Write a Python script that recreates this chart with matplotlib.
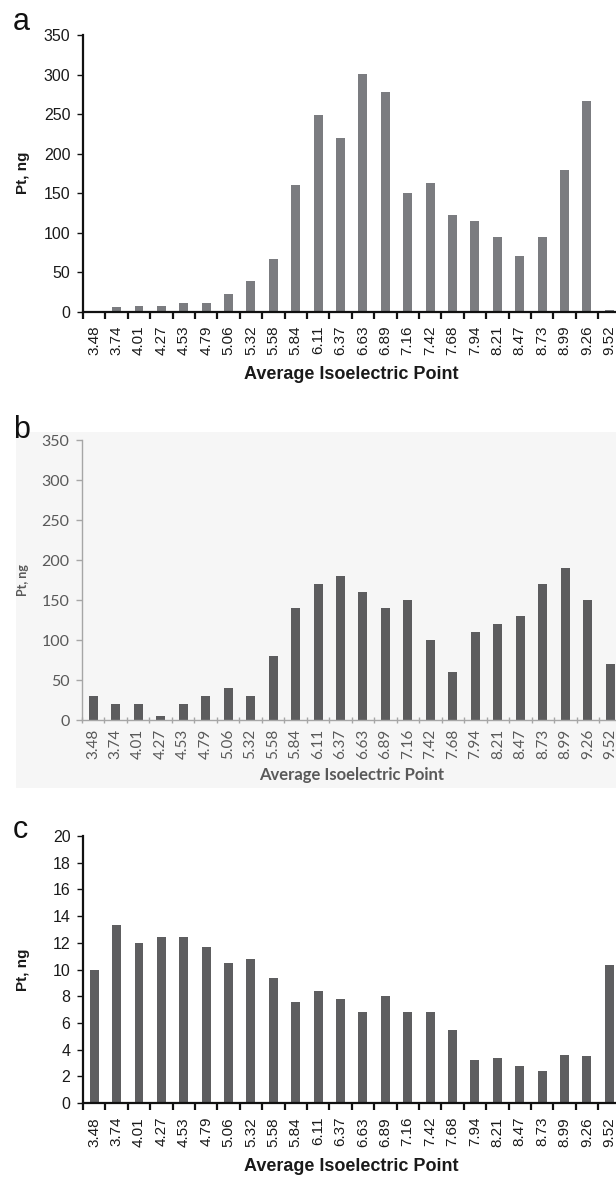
import matplotlib.pyplot as plt
from matplotlib.patches import Rectangle

# isoelectric point categories (shared by all three panels)
pI = ["3.48", "3.74", "4.01", "4.27", "4.53", "4.79", "5.06", "5.32", "5.58", "5.84",
      "6.11", "6.37", "6.63", "6.89", "7.16", "7.42", "7.68", "7.94", "8.21", "8.47",
      "8.73", "8.99", "9.26", "9.52"]

# panel a, Pt ng
pt_a = [0, 5.5, 7, 7, 10.5, 10.5, 22, 38, 67, 160,
        249, 220, 301, 278, 150, 163, 122, 115, 94.5, 70,
        94.5, 179, 266, 2]

# panel b, Pt ng
pt_b = [30, 20, 20, 5, 20, 30, 40, 30, 80, 140,
        170, 180, 160, 140, 150, 100, 60, 110, 120, 130,
        170, 190, 150, 70]

# panel c, Pt ng
pt_c = [10.0, 13.3, 12.0, 12.4, 12.4, 11.7, 10.5, 10.8, 9.4, 7.6,
        8.4, 7.8, 6.8, 8.0, 6.8, 6.8, 5.5, 3.2, 3.4, 2.8,
        2.4, 3.6, 3.5, 10.3]

xlabel = "Average Isoelectric Point"
ylabel = "Pt, ng"

W, H = 616, 1181
fig = plt.figure(figsize = (W / 100, H / 100), dpi = 100)

arial = ["Liberation Sans", "DejaVu Sans"]
calibri = ["Lato", "DejaVu Sans"]

# light grey background behind panel b (pasted excel chart)
fig.patches.append(Rectangle((16 / W, 1 - 788 / H), 1, (788 - 432) / H,
                             transform = fig.transFigure, facecolor = "#f6f6f6",
                             edgecolor = "none", zorder = -5))


def style_panel(ax, vals, ymax, ystep, color, fam, txtcolor, axcolor, axlw,
                tickpad, lblsize, xlbl_size, ylbl_size, xlbl_pad):
    x = list(range(len(vals)))
    ax.bar(x, vals, width = 0.4, color = color, zorder = 2)
    ax.set_xlim(-0.5, len(vals) - 0.5)
    ax.set_ylim(0, ymax)
    ax.set_facecolor("none")
    for s in ["top", "right"]:
        ax.spines[s].set_visible(False)
    for s in ["left", "bottom"]:
        ax.spines[s].set_color(axcolor)
        ax.spines[s].set_linewidth(axlw)

    # category labels at centres, tick marks at boundaries
    ax.set_xticks(x)
    ax.set_xticklabels(pI, rotation = 90, family = fam, fontsize = lblsize, color = txtcolor)
    ax.tick_params(axis = "x", which = "major", length = 0, pad = tickpad)
    ax.set_xticks([i - 0.5 for i in range(len(vals) + 1)], minor = True)
    ax.tick_params(axis = "x", which = "minor", length = 5, width = axlw, color = axcolor,
                   direction = "out" if axlw > 1 else "inout")

    yt = list(range(0, ymax + 1, ystep))
    ax.set_yticks(yt)
    ax.set_yticklabels([str(v) for v in yt], family = fam, fontsize = lblsize + 0.5, color = txtcolor)
    ax.tick_params(axis = "y", length = 4, width = 1, color = axcolor, pad = 5)

    ax.set_xlabel(xlabel, family = fam, fontsize = xlbl_size, fontweight = "bold",
                  color = txtcolor, labelpad = xlbl_pad)
    ax.set_ylabel(ylabel, family = fam, fontsize = ylbl_size, fontweight = "bold",
                  color = txtcolor)
    ax.yaxis.set_label_coords(-0.099, 0.5)


ax_w = 537.5 / W

# panel a
ax1 = fig.add_axes([83 / W, 1 - 311.5 / H, ax_w, (311.5 - 35) / H])
style_panel(ax1, pt_a, 350, 50, "#7b7c80", arial, "#1a1a1a", "#111111", 1.6,
            10, 11, 13, 11, 8)

# panel b
ax2 = fig.add_axes([82 / W, 1 - 720 / H, ax_w + 2 / W, (720 - 440) / H])
style_panel(ax2, pt_b, 350, 50, "#5c5c5e", calibri, "#595959", "#a6a6a6", 1.0,
            6, 11, 12, 9, 6)

# panel c
ax3 = fig.add_axes([83 / W, 1 - 1103 / H, ax_w, (1103 - 836) / H])
style_panel(ax3, pt_c, 20, 2, "#5e5e60", arial, "#1a1a1a", "#111111", 1.6,
            10, 11, 13, 11, 8)

# panel letters
for lbl, yb in [("a", 30), ("b", 438), ("c", 838)]:
    fig.text(13 / W, 1 - yb / H, lbl, family = arial, fontsize = 22,
             ha = "left", va = "baseline", color = "#111111")

plt.savefig("out.png", dpi = 100)
